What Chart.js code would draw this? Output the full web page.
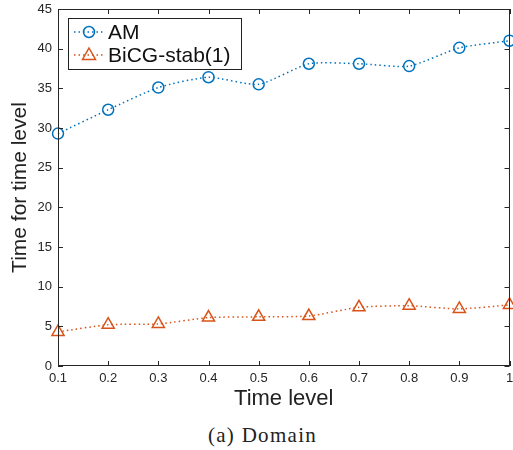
<!DOCTYPE html>
<html><head><meta charset="utf-8">
<script src="https://cdn.jsdelivr.net/npm/chart.js@4.4.1/dist/chart.umd.min.js"></script>
<style>
html,body{margin:0;padding:0;background:#fff;overflow:hidden;}
#wrap{position:relative;width:513px;height:412px;overflow:hidden;}
#cap{position:absolute;top:423px;left:6px;width:513px;text-align:center;font-family:"Liberation Serif","DejaVu Serif",serif;font-size:21px;letter-spacing:1.3px;color:#222;line-height:24px;}
</style></head>
<body>
<div id="wrap"><canvas id="c" width="518" height="412"></canvas></div>
<div id="cap">(a) Domain</div>
<script>
const timeLevels = ['0.1','0.2','0.3','0.4','0.5','0.6','0.7','0.8','0.9','1'];
const amValues = [29.3, 32.3, 35.1, 36.4, 35.5, 38.1, 38.1, 37.8, 40.1, 41.0];
const bicgValues = [4.3, 5.2, 5.3, 6.1, 6.2, 6.3, 7.4, 7.6, 7.2, 7.7];
const yTicks = [0,5,10,15,20,25,30,35,40,45];

const AXIS = '#262626';
const BLUE = '#0072BD';
const RED = '#D95319';
const FONT = '"Liberation Sans", Arial, Helvetica, sans-serif';

function drawMarker(g, style, x, y){
  g.beginPath();
  if(style==='circle'){ g.arc(x,y,5.5,0,Math.PI*2); }
  else { g.moveTo(x,y-7); g.lineTo(x+6.5,y+4.5); g.lineTo(x-6.5,y+4.5); g.closePath(); }
  g.stroke();
}

const boxPlugin = {
  id:'box',
  afterDraw(chart){
    const {ctx, chartArea:a, scales} = chart;
    ctx.save();
    ctx.strokeStyle = AXIS; ctx.lineWidth = 1;
    ctx.strokeRect(Math.round(a.left)+0.5, Math.round(a.top)+0.5, Math.round(a.right-a.left)-1, Math.round(a.bottom-a.top)-1);
    const L = 5;
    ctx.beginPath();
    scales.x.ticks.forEach((t,i)=>{
      const px = Math.round(scales.x.getPixelForTick(i))+0.5;
      ctx.moveTo(px,a.bottom); ctx.lineTo(px,a.bottom-L);
      ctx.moveTo(px,a.top); ctx.lineTo(px,a.top+L);
    });
    scales.y.ticks.forEach(t=>{
      const py = Math.round(scales.y.getPixelForValue(t.value))+0.5;
      ctx.moveTo(a.left,py); ctx.lineTo(a.left+L,py);
      ctx.moveTo(a.right,py); ctx.lineTo(a.right-L,py);
    });
    ctx.stroke();
    // legend
    const lx = 68.5, ly = 18.5, lw = 173, lh = 51;
    ctx.fillStyle = '#fff';
    ctx.fillRect(lx, ly, lw, lh);
    ctx.strokeStyle = '#222'; ctx.lineWidth = 1;
    ctx.strokeRect(lx, ly, lw, lh);
    const rows = [32, 55];
    chart.data.datasets.forEach((d,i)=>{
      const y = rows[i];
      ctx.strokeStyle = d.borderColor; ctx.lineWidth = 1.5;
      ctx.setLineDash([1.5,3]);
      ctx.beginPath(); ctx.moveTo(74,y); ctx.lineTo(104,y); ctx.stroke();
      ctx.setLineDash([]);
      drawMarker(ctx, d._icon, 89, y);
      ctx.fillStyle = '#111';
      ctx.font = '21px ' + FONT;
      ctx.textBaseline = 'middle'; ctx.textAlign = 'left';
      ctx.fillText(d.label, 108, y+1);
    });
    ctx.restore();
  }
};

new Chart(document.getElementById('c'), {
  type:'line',
  data:{
    labels: timeLevels,
    datasets:[
      {label:'AM', data:amValues, borderColor:BLUE, backgroundColor:'rgba(0,0,0,0)', borderWidth:1.5, borderDash:[1.5,3],
       pointStyle:'circle', pointRadius:5.5, pointBorderWidth:1.5, pointBorderColor:BLUE, pointBackgroundColor:'rgba(0,0,0,0)', tension:0.2,
       _icon:'circle'},
      {label:'BiCG-stab(1)', data:bicgValues, borderColor:RED, backgroundColor:'rgba(0,0,0,0)', borderWidth:1.5, borderDash:[1.5,3],
       pointStyle:'triangle', pointRadius:7, pointBorderWidth:1.5, pointBorderColor:RED, pointBackgroundColor:'rgba(0,0,0,0)', tension:0.2,
       _icon:'triangle'}
    ]
  },
  options:{
    responsive:false, animation:false,
    clip:false,
    layout:{padding:{top:9,right:0,left:0,bottom:0}},
    plugins:{ legend:{display:false}, tooltip:{enabled:false} },
    scales:{
      x:{
        type:'category', offset:false,
        grid:{display:false, drawTicks:false}, border:{display:false},
        ticks:{color:AXIS, padding:5, maxRotation:0, autoSkip:false, font:{family:FONT, size:13}},
        title:{display:true, text:'Time level', color:'#222', padding:{top:0,bottom:0}, font:{family:FONT, size:22}},
        afterFit(s){ s.height = 46; s.paddingLeft = 0; s.paddingRight = 0; }
      },
      y:{
        min:0, max:45,
        afterBuildTicks(s){ s.ticks = yTicks.map(v=>({value:v})); },
        grid:{display:false, drawTicks:false}, border:{display:false},
        ticks:{color:AXIS, padding:6, font:{family:FONT, size:13}},
        title:{display:true, text:'Time for time level', color:'#222', padding:{top:8,bottom:0}, font:{family:FONT, size:21}},
        afterFit(s){ s.width = 58; s.paddingTop = 0; s.paddingBottom = 0; }
      }
    }
  },
  plugins:[boxPlugin]
});
</script>
</body></html>
